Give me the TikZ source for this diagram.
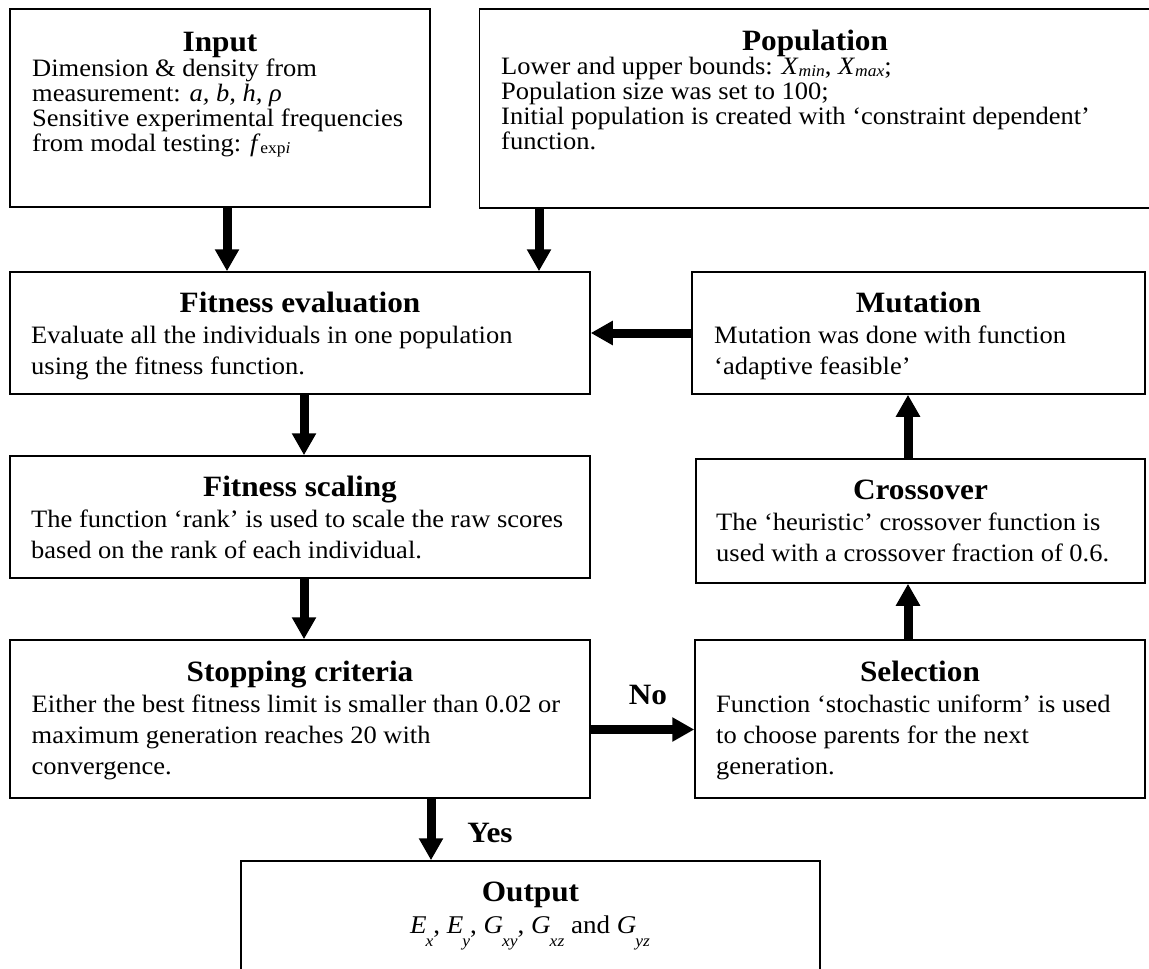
\documentclass[tikz,border=0pt]{standalone}
\usepackage{fontspec}
\setmainfont[FakeStretch=1.06]{Liberation Serif}
\usetikzlibrary{arrows.meta,fit}

% small lowered text used for indices such as X_min or f_expi
\newcommand\lowidx[1]{\raisebox{-2pt}{\fontsize{16.5}{17}\selectfont #1}}
% deeply lowered subscripts of the output quantities
\newcommand\outsub[1]{\kern-1pt\raisebox{-13pt}{\fontsize{16.5}{17}\selectfont\textit{#1}}}

% body texts are placed by the baseline of their last line
\tikzset{
  box/.style={draw, line width=1.5pt, inner sep=0pt},
  ttl/.style={font=\fontsize{29.5}{31}\selectfont\bfseries, anchor=base, inner sep=0pt},
  body/.style={font=\fontsize{25}{25}\selectfont, anchor=base west, align=left, inner sep=0pt},
  bodyw/.style={body, font=\fontsize{25}{31}\selectfont},
  lbl/.style={font=\fontsize{29.5}{31}\selectfont\bfseries, anchor=base, inner sep=0pt},
  flow/.style={line width=9pt, -{Triangle[length=22pt,width=23pt]}},
}

\begin{document}
\begin{tikzpicture}[x=1pt, y=-1pt]
\useasboundingbox (0,0) rectangle (1149,969);
\fill[white] (0,0) rectangle (1149,969);
\clip (0,0) rectangle (1149,969);

% ---- boxes ----
\node[box, fit={(10,9) (430,207)}] (input) {};
\node[box, fit={(479.5,9) (1156,208)}] (pop) {};
\node[box, fit={(10,272) (590,394)}] (fiteval) {};
\node[box, fit={(692,272) (1145,394)}] (mut) {};
\node[box, fit={(10,456) (590,578)}] (scal) {};
\node[box, fit={(696,459) (1145,583)}] (cross) {};
\node[box, fit={(10,640) (590,798)}] (stop) {};
\node[box, fit={(695,640) (1145,798)}] (sel) {};
\node[box, fit={(241,861) (820,980)}] (out) {};

% ---- texts ----
\node[ttl] (inputT) at (220,51) {Input};
\node[body] (inputB) at (32,151) {Dimension \& density from\\
  measurement: \textit{a, b, h, ρ}\\
  Sensitive experimental frequencies\\
  from modal testing: \textit{f}\lowidx{exp\textit{i}}};

\node[ttl] (popT) at (815,50) {Population};
\node[body] (popB) at (501,149) {Lower and upper bounds: \textit{X}\lowidx{\textit{min}}, \textit{X}\lowidx{\textit{max}};\\
  Population size was set to 100;\\
  Initial population is created with ‘constraint dependent’\\
  function.};

\node[ttl] (fitevalT) at (300,312) {Fitness evaluation};
\node[bodyw] (fitevalB) at (31,374) {Evaluate all the individuals in one population\\
  using the fitness function.};

\node[ttl] (mutT) at (918.5,312) {Mutation};
\node[bodyw] (mutB) at (714,374) {Mutation was done with function\\
  ‘adaptive feasible’};

\node[ttl] (scalT) at (300,496) {Fitness scaling};
\node[bodyw] (scalB) at (31,558) {The function ‘rank’ is used to scale the raw scores\\
  based on the rank of each individual.};

\node[ttl] (crossT) at (920.5,499) {Crossover};
\node[bodyw] (crossB) at (716,561) {The ‘heuristic’ crossover function is\\
  used with a crossover fraction of 0.6.};

\node[ttl] (stopT) at (300,681) {Stopping criteria};
\node[bodyw] (stopB) at (31.5,774) {Either the best fitness limit is smaller than 0.02 or\\
  maximum generation reaches 20 with\\
  convergence.};

\node[ttl] (selT) at (920,681) {Selection};
\node[bodyw] (selB) at (716,774) {Function ‘stochastic uniform’ is used\\
  to choose parents for the next\\
  generation.};

\node[ttl] (outT) at (530.5,901.7) {Output};
\node[font=\fontsize{25.5}{27}\selectfont, anchor=base, inner sep=0pt] (outB) at (530,933.3)
  {\textit{E}\outsub{x}, \textit{E}\outsub{y}, \textit{G}\outsub{xy}, \textit{G}\outsub{xz} and \textit{G}\outsub{yz}};

\node[lbl] (no) at (648,704) {No};
\node[lbl] (yes) at (490,842) {Yes};

% ---- arrow positions ----
\coordinate (cx1) at (227,0);
\coordinate (cx2) at (539,0);
\coordinate (cx3) at (304,0);
\coordinate (cx4) at (908,0);
\coordinate (cx5) at (431,0);
\coordinate (cy1) at (0,333);
\coordinate (cy2) at (0,729.5);

% ---- connectors ----
\draw[flow] (input.south -| cx1) -- (fiteval.north -| cx1);
\draw[flow] (pop.south -| cx2) -- (fiteval.north -| cx2);
\draw[flow] (mut.west |- cy1) -- (fiteval.east |- cy1);
\draw[flow] (fiteval.south -| cx3) -- (scal.north -| cx3);
\draw[flow] (scal.south -| cx3) -- (stop.north -| cx3);
\draw[flow] (stop.east |- cy2) -- (sel.west |- cy2);
\draw[flow] (sel.north -| cx4) -- (cross.south -| cx4);
\draw[flow] (cross.north -| cx4) -- (mut.south -| cx4);
\draw[flow] (stop.south -| cx5) -- (out.north -| cx5);
\end{tikzpicture}
\end{document}
